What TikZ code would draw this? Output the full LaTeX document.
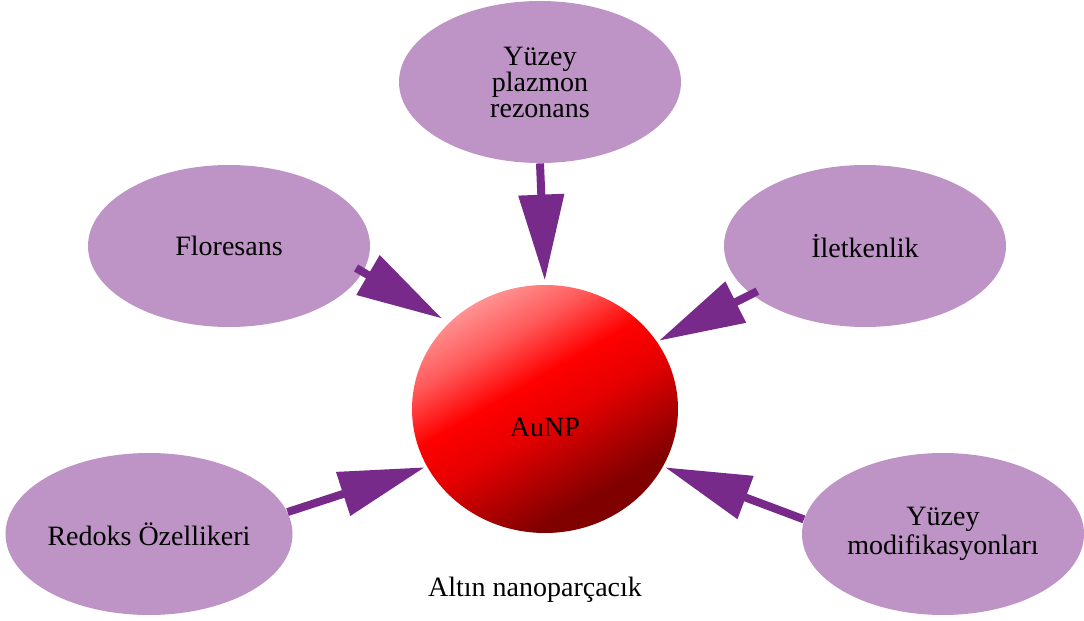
\documentclass[tikz,border=0pt]{standalone}
\usepackage{fontspec}
\setmainfont{Liberation Serif}
\usetikzlibrary{shapes.geometric,arrows.meta}
\definecolor{lila}{RGB}{190,148,198}
\definecolor{mor}{RGB}{120,42,138}
\pgfdeclareverticalshading{altin}{100bp}{color(0bp)=(red!50!black); color(30bp)=(red!50!black); color(47bp)=(red!90!black); color(56bp)=(red); color(66bp)=(red!65!white); color(80bp)=(red!30!white); color(100bp)=(red!20!white)}
\begin{document}
\begin{tikzpicture}[x=0.5pt,y=-0.5pt,
  konu/.style={ellipse,fill=lila,minimum width=141pt,minimum height=81pt,inner sep=0pt,align=center,font=\fontsize{14}{14.5}\selectfont},
  kure/.style={ellipse,shading=altin,shading angle=30,minimum width=133pt,minimum height=124pt,inner sep=0pt},
  yazi/.style={font=\fontsize{14}{14.5}\selectfont},
  pfeil/.style={draw=mor,line width=4pt,-{Triangle[width=22pt,length=43pt]}}]
  \useasboundingbox (0,0) rectangle (1084,621);
  \node[konu,font=\fontsize{14}{13}\selectfont] (plazmon) at (540,82) {Yüzey\\plazmon\\rezonans};
  \node[konu] (floresans) at (229,246) {Floresans};
  \node[konu] (iletkenlik) at (865,246) {İletkenlik};
  \node[konu] (redoks) at (149,534) {Redoks Özellikeri};
  \node[konu] (modif) at (943,534) {Yüzey\\modifikasyonları};
  \node[kure] (aunp) at (545,409) {};
  \node[yazi] (aunpyazi) at (545,427) {AuNP};
  \node[yazi] (baslik) at (535,590) {Altın nanoparçacık};
  \draw[pfeil,shorten >=2pt] (plazmon.south) -- (aunp.north);
  \draw[pfeil,shorten <=-4pt,shorten >=4pt] (floresans.-11) -- (aunp.138);
  \draw[pfeil,shorten <=-3.5pt,shorten >=1pt] (iletkenlik.203) -- (aunp.31);
  \draw[pfeil,shorten >=1pt] (redoks.9) -- (aunp.206);
  \draw[pfeil,shorten >=1pt] (modif.174) -- (aunp.-26);
\end{tikzpicture}
\end{document}
